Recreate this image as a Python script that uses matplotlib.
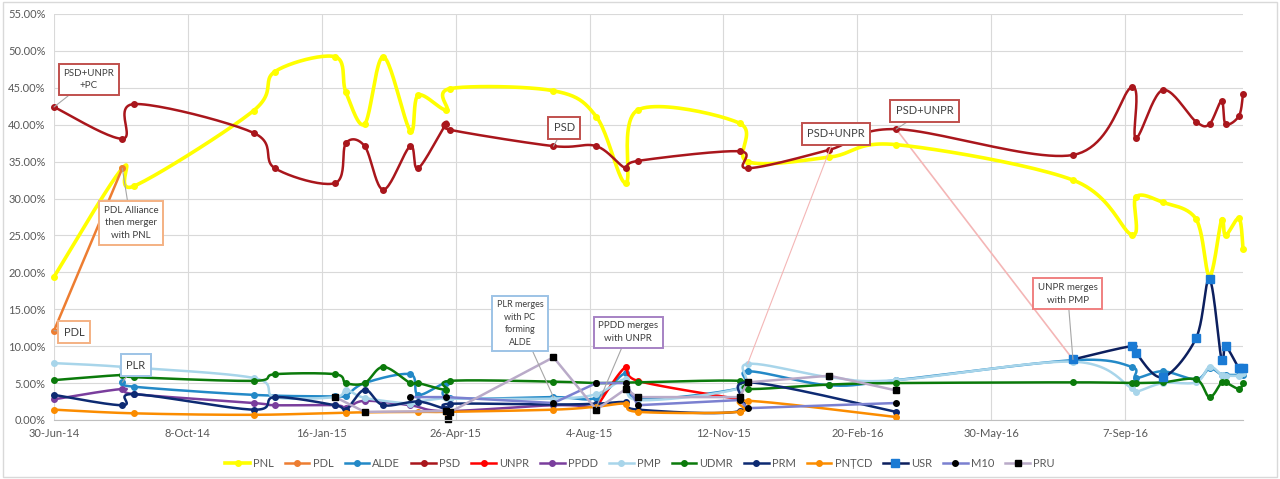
import numpy as np
import matplotlib
matplotlib.use('Agg')
import matplotlib.pyplot as plt
from matplotlib.patches import Rectangle

plt.rcParams['font.family'] = ['Lato', 'DejaVu Sans']

# Дни от 30-Jun-14, значения в процентах
x_ticks = [0, 100, 200, 300, 400, 500, 600, 700, 800]
x_tick_labels = ['30-Jun-14', '8-Oct-14', '16-Jan-15', '26-Apr-15', '4-Aug-15',
                 '12-Nov-15', '20-Feb-16', '30-May-16', '7-Sep-16']

pnl_days = [0, 51, 60, 149, 165, 210, 218, 232, 246, 266, 272, 293, 296, 373, 405, 427, 436,
            512, 518, 579, 629, 761, 805, 808, 828, 853, 863, 872, 875, 885, 888]
pnl_vals = [19.4, 34.1, 31.7, 41.9, 47.2, 49.2, 44.4, 40.1, 49.2, 39.2, 44.0, 42.0, 44.9, 44.6, 41.1, 32.1, 42.0,
            40.2, 35.0, 35.6, 37.3, 32.5, 25.1, 30.2, 29.5, 27.2, 19.5, 27.1, 25.0, 27.3, 23.2]

pdl_days = [0, 51]
pdl_vals = [12.1, 34.1]

alde_days = [51, 60, 149, 210, 218, 232, 266, 272, 293, 296, 373, 405, 427, 436, 512, 518, 579, 629,
             761, 805, 808, 828, 853, 863, 872, 875, 885, 888]
alde_vals = [5.1, 4.5, 3.4, 3.2, 3.3, 5.0, 6.2, 3.4, 5.0, 3.0, 3.1, 3.0, 6.3, 2.9, 4.3, 6.6, 4.7, 5.4,
             8.1, 7.2, 5.7, 6.6, 5.5, 7.0, 6.1, 6.1, 6.1, 6.1]

psd_days = pnl_days
psd_vals = [42.4, 38.1, 42.8, 38.9, 34.1, 32.1, 37.5, 37.1, 31.2, 37.1, 34.1, 40.1, 39.3, 37.1, 37.1, 34.1, 35.1,
            36.4, 34.1, 36.6, 39.4, 35.9, 45.1, 38.2, 44.7, 40.4, 40.1, 43.2, 40.1, 41.2, 44.2]

unpr_days = [405, 427, 436, 512]
unpr_vals = [1.7, 7.2, 5.3, 2.8]

ppdd_days = [0, 51, 60, 149, 165, 210, 218, 232, 266, 293, 373, 405]
ppdd_vals = [2.8, 4.2, 3.5, 2.3, 2.0, 2.0, 1.6, 2.6, 2.0, 1.2, 2.0, 1.7]

pmp_days = [0, 51, 149, 165, 210, 218, 232, 266, 272, 293, 296, 373, 405, 427, 436, 512, 518, 579, 629,
            761, 805, 808, 828, 853, 863, 872, 875, 885, 888]
pmp_vals = [7.7, 7.2, 5.7, 3.1, 3.1, 4.1, 3.0, 2.2, 2.5, 3.0, 2.9, 2.9, 3.5, 5.5, 2.7, 4.3, 7.6, 5.8, 5.4,
            7.9, 4.3, 3.8, 5.0, 5.1, 7.2, 6.1, 6.0, 6.0, 6.3]

udmr_days = [0, 51, 60, 149, 165, 210, 218, 232, 246, 266, 272, 293, 296, 373, 405, 436, 512, 518, 579, 629,
             761, 805, 808, 828, 853, 863, 872, 875, 885, 888]
udmr_vals = [5.4, 6.1, 5.8, 5.3, 6.2, 6.2, 5.0, 5.0, 7.2, 5.0, 5.0, 4.1, 5.3, 5.2, 5.0, 5.1, 5.3, 4.2, 4.8, 5.0,
             5.1, 5.0, 5.0, 5.1, 5.5, 3.1, 5.1, 5.1, 4.2, 5.0]

prm_days = [0, 51, 60, 149, 165, 210, 218, 232, 246, 272, 293, 296, 373, 405, 427, 436, 512, 518, 629]
prm_vals = [3.4, 2.0, 3.5, 1.4, 3.1, 2.0, 1.4, 4.1, 2.0, 2.5, 1.5, 2.2, 2.1, 2.2, 2.4, 1.4, 1.2, 5.1, 1.1]

pntcd_days = [0, 60, 149, 218, 272, 293, 373, 405, 427, 436, 512, 518, 629]
pntcd_vals = [1.4, 0.9, 0.7, 1.0, 1.1, 1.1, 1.4, 1.8, 2.2, 1.1, 1.1, 2.6, 0.4]

usr_days = [761, 805, 808, 828, 853, 863, 872, 875, 885, 888]
usr_vals = [8.2, 10.0, 9.1, 5.8, 11.1, 19.1, 8.1, 10.0, 7.0, 7.0]

m10_days = [266, 293, 373, 405, 427, 436, 512, 518, 629]
m10_vals = [3.1, 3.1, 2.3, 5.0, 5.0, 2.0, 2.7, 1.6, 2.3]

pru_days = [210, 232, 293, 294, 296, 373, 405, 427, 436, 512, 518, 579, 629]
pru_vals = [3.1, 1.1, 1.2, 0.1, 1.1, 8.5, 1.4, 4.2, 3.1, 3.1, 5.1, 6.0, 4.0]

XMAX = 888
YMAX = 55


def smooth(xs, ys, w=1189.0, h=406.0):
    # сглаживание как в Excel (кривые Безье через точки)
    pts = np.column_stack([np.array(xs) / XMAX * w, np.array(ys) / YMAX * h])
    n = len(pts)
    if n < 3:
        return xs, ys
    out = []
    t = np.linspace(0, 1, 25)[:, None]
    for i in range(n - 1):
        p0 = pts[i - 1] if i > 0 else pts[i]
        p1, p2 = pts[i], pts[i + 1]
        p3 = pts[i + 2] if i + 2 < n else pts[i + 1]
        c1 = p1 + (p2 - p0) / 6
        c2 = p2 - (p3 - p1) / 6
        seg = (1 - t)**3 * p1 + 3 * (1 - t)**2 * t * c1 + 3 * (1 - t) * t**2 * c2 + t**3 * p2
        out.append(seg if i == 0 else seg[1:])
    out = np.vstack(out)
    return out[:, 0] / w * XMAX, out[:, 1] / h * YMAX


fig = plt.figure(figsize=(12.8, 4.79), dpi=100)
ax = fig.add_axes([0.0422, 0.1232, 0.9289, 0.8476])

series = [
    ('PNL', pnl_days, pnl_vals, '#ffff00', '#ffff00', 'o', 2.6, 4, True),
    ('PDL', pdl_days, pdl_vals, '#ed7d31', '#ed7d31', 'o', 1.8, 4, False),
    ('ALDE', alde_days, alde_vals, '#2389c7', '#2389c7', 'o', 1.8, 4, True),
    ('PSD', psd_days, psd_vals, '#a9161c', '#a9161c', 'o', 1.8, 4, True),
    ('UNPR', unpr_days, unpr_vals, '#ff0000', '#ff0000', 'o', 1.8, 4, True),
    ('PPDD', ppdd_days, ppdd_vals, '#7a3e9d', '#7a3e9d', 'o', 1.8, 4, True),
    ('PMP', pmp_days, pmp_vals, '#a8d5ea', '#a8d5ea', 'o', 1.8, 4, True),
    ('UDMR', udmr_days, udmr_vals, '#0b7a0b', '#0b7a0b', 'o', 1.8, 4, True),
    ('PRM', prm_days, prm_vals, '#0d2a72', '#0d2a72', 'o', 1.8, 4, True),
    ('PNȚCD', pntcd_days, pntcd_vals, '#fb8c00', '#fb8c00', 'o', 1.8, 4, True),
    ('USR', usr_days, usr_vals, '#0c1f5e', '#1a7ad4', 's', 1.8, 5.5, True),
    ('M10', m10_days, m10_vals, '#7b80d0', '#000000', 'o', 1.8, 4, False),
    ('PRU', pru_days, pru_vals, '#b9aac8', '#000000', 's', 1.8, 5, False),
]

for name, dx, dy, lc, mc, mk, lw, ms, sm in series:
    if sm:
        sx, sy = smooth(dx, dy)
    else:
        sx, sy = dx, dy
    ax.plot(sx, sy, color=lc, lw=lw, solid_capstyle='round', clip_on=False)
    ax.plot(dx, dy, ls='none', marker=mk, ms=ms, color=mc, clip_on=False)
    # для легенды
    ax.plot([], [], color=lc, lw=lw, marker=mk, ms=ms, mfc=mc, mec=mc, label=name)

ax.set_xlim(0, XMAX)
ax.set_ylim(0, YMAX)
ax.set_xticks(x_ticks)
ax.set_xticklabels(x_tick_labels)
ax.set_yticks(np.arange(0, 56, 5))
ax.set_yticklabels(['%.2f%%' % v for v in np.arange(0, 56, 5)])
ax.tick_params(length=0, labelsize=8, colors='#595959', pad=6)
ax.grid(True, color='#d9d9d9', lw=0.8)
ax.set_axisbelow(True)
for s in ['top', 'right', 'left']:
    ax.spines[s].set_visible(False)
ax.spines['bottom'].set_color('#bfbfbf')

# подписи-выноски
grey = '#a6a6a6'
pink = '#f4b6b6'
notes = [
    ('PSD+UNPR\n+PC', (26, 46.1), (psd_days[0], psd_vals[0]), '#c0504d', 7, grey),
    ('PDL Alliance\nthen merger\nwith PNL', (57.5, 26.7), (pdl_days[1], pdl_vals[1]), '#f4b183', 7, grey),
    ('PDL', (15, 11.9), (pdl_days[0], pdl_vals[0]), '#f4b183', 8, grey),
    ('PLR', (61, 7.4), (alde_days[0], alde_vals[0]), '#9dc3e6', 8, grey),
    ('PSD', (381, 39.6), (psd_days[13], psd_vals[13]), '#c0504d', 8, grey),
    ('PSD+UNPR', (584, 38.8), (pmp_days[16], pmp_vals[16]), '#c0504d', 8, pink),
    ('PSD+UNPR', (650, 41.9), (psd_days[20], psd_vals[20]), '#c0504d', 8, grey),
    ('PLR merges\nwith PC\nforming\nALDE', (348, 13.1), (alde_days[10], alde_vals[10]), '#9dc3e6', 6.5, grey),
    ('PPDD merges\nwith UNPR', (429, 11.9), (unpr_days[0], unpr_vals[0]), '#a682c4', 7, grey),
    ('UNPR merges\nwith PMP', (757, 17.1), (usr_days[0], usr_vals[0]), '#f08080', 7, grey),
]
for txt, pos, pt, ec, fs, lcol in notes:
    ax.annotate(txt, xy=pt, xytext=pos, ha='center', va='center', fontsize=fs, color='#404040',
                linespacing=1.5, zorder=10,
                bbox=dict(boxstyle='square,pad=0.5', fc='white', ec=ec, lw=1.4),
                arrowprops=dict(arrowstyle='-', color=lcol, lw=0.8, shrinkA=0, shrinkB=0))

# розовая линия от PSD к USR
ax.plot([psd_days[20], usr_days[0]], [psd_vals[20], usr_vals[0]], color=pink, lw=1.2, zorder=1)

ax.legend(loc='center', bbox_to_anchor=(0.5, 0.033), bbox_transform=fig.transFigure,
          ncol=13, frameon=False, fontsize=8, handlelength=2.2, handletextpad=0.3,
          columnspacing=1.0, labelcolor='#595959')

fig.patches.append(Rectangle((0.002, 0.004), 0.996, 0.992, transform=fig.transFigure,
                             fill=False, ec='#d9d9d9', lw=1))

fig.savefig('out.png', dpi=100, facecolor='white')
